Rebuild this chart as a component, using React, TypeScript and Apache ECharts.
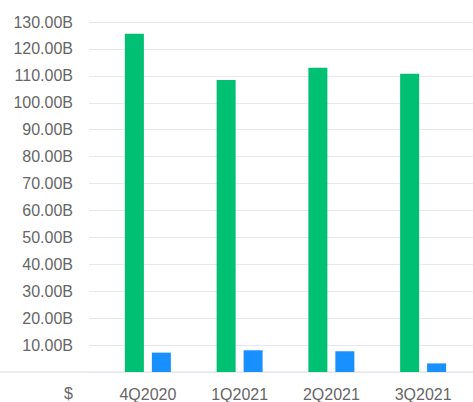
import React, { useEffect, useRef } from "react";
import * as echarts from "echarts";

const quarters = ["4Q2020", "1Q2021", "2Q2021", "3Q2021"];
const revenue = [125.6, 108.5, 113.0, 110.8];
const netIncome = [7.2, 8.1, 7.7, 3.2];
const yMin = 0;
const yMax = 130;
const yStep = 10;

const textColor = "#666";
const gridColor = "#e6e8ee";

export default function App() {
  const ref = useRef<HTMLDivElement>(null);

  useEffect(() => {
    document.body.style.margin = "0";
    if (!ref.current) return;
    const chart = echarts.init(ref.current, null, { renderer: "svg" });
    const font = "Liberation Sans, Arial, sans-serif";
    chart.setOption({
      animation: false,
      grid: [
        { left: 89, right: 0, top: 22, bottom: 30 },
        { left: 102, right: 4, top: 22, bottom: 30 },
      ],
      xAxis: [
        { type: "category", gridIndex: 0, data: quarters, show: false },
        {
          type: "category",
          gridIndex: 1,
          data: quarters,
          axisLine: { show: false },
          axisTick: { show: false },
          axisLabel: { color: textColor, fontSize: 16, fontFamily: font, margin: 14 },
        },
      ],
      yAxis: [
        {
          type: "value",
          gridIndex: 0,
          min: yMin,
          max: yMax,
          interval: yStep,
          axisLine: { show: false },
          axisTick: { show: false },
          splitLine: { lineStyle: { color: gridColor, width: 1 } },
          axisLabel: {
            color: textColor,
            fontSize: 16,
            fontFamily: font,
            margin: 16,
            formatter: (v: number) => (v === 0 ? "" : v.toFixed(2) + "B"),
          },
        },
        { type: "value", gridIndex: 1, min: yMin, max: yMax, interval: yStep, show: false },
      ],
      graphic: [
        {
          type: "line",
          shape: { x1: 0, y1: 372, x2: 473, y2: 372 },
          style: { stroke: gridColor, lineWidth: 1.5 },
        },
        {
          type: "text",
          x: 73,
          y: 393,
          style: {
            text: "$",
            fill: textColor,
            fontSize: 16,
            fontFamily: font,
            align: "right",
            verticalAlign: "middle",
          },
        },
      ],
      series: [
        {
          name: "Revenue",
          type: "bar",
          xAxisIndex: 1,
          yAxisIndex: 1,
          data: revenue,
          barWidth: 19,
          barGap: "42%",
          itemStyle: { color: "#00c073" },
        },
        {
          name: "Net Income",
          type: "bar",
          xAxisIndex: 1,
          yAxisIndex: 1,
          data: netIncome,
          barWidth: 19,
          itemStyle: { color: "#1890ff" },
        },
      ],
    });
    return () => chart.dispose();
  }, []);

  return <div ref={ref} style={{ width: 473, height: 402 }} />;
}
